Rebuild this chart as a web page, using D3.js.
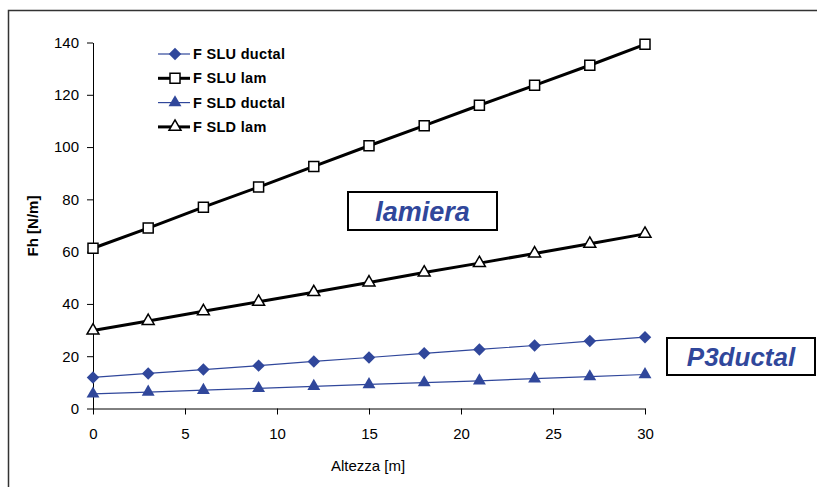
<!DOCTYPE html>
<html>
<head>
<meta charset="utf-8">
<script src="https://cdn.jsdelivr.net/npm/d3@7"></script>
<style>
  body { margin: 0; background: #fff; }
  svg { display: block; font-family: "Liberation Sans", Arial, sans-serif; }
</style>
</head>
<body>
<svg id="chart" width="817" height="487"></svg>
<script>
const altezza = [0, 3, 6, 9, 12, 15, 18, 21, 24, 27, 30];
const sluDuctal = [11.9, 13.4, 14.9, 16.4, 18.0, 19.5, 21.1, 22.6, 24.1, 25.8, 27.3];
const sluLam = [61.3, 69.0, 77.0, 84.7, 92.6, 100.5, 108.2, 116.0, 123.6, 131.3, 139.3];
const sldDuctal = [5.6, 6.3, 7.0, 7.7, 8.5, 9.2, 9.9, 10.6, 11.4, 12.2, 13.0];
const sldLam = [29.8, 33.5, 37.2, 40.8, 44.5, 48.2, 52.0, 55.6, 59.3, 63.0, 66.8];
const xTicks = [0, 5, 10, 15, 20, 25, 30];
const yTicks = [0, 20, 40, 60, 80, 100, 120, 140];
const seriesNames = ["F SLU ductal", "F SLU lam", "F SLD ductal", "F SLD lam"];

const blue = "#30479b";

// square-ish diamond, d3's own is too tall
const diamond = {
    draw(context, size) {
        const r = Math.sqrt(size / 2);
        context.moveTo(0, -r);
        context.lineTo(r, 0);
        context.lineTo(0, r);
        context.lineTo(-r, 0);
        context.closePath();
    }
};

const series = [
    {name: seriesNames[0], values: sluDuctal, color: blue, width: 1.2, symbol: diamond, size: 78, fill: blue},
    {name: seriesNames[1], values: sluLam, color: "#000", width: 3, symbol: d3.symbolSquare, size: 100, fill: "#fff"},
    {name: seriesNames[2], values: sldDuctal, color: blue, width: 1.2, symbol: d3.symbolTriangle, size: 72, fill: blue},
    {name: seriesNames[3], values: sldLam, color: "#000", width: 3, symbol: d3.symbolTriangle, size: 62, fill: "#fff"}
];

const svg = d3.select("#chart");

// outer frame (left and top edges only)
svg.append("path")
    .attr("d", "M8.5,487 V10.5 H817")
    .attr("fill", "none")
    .attr("stroke", "#333")
    .attr("stroke-width", 1.5);

const x = d3.scaleLinear().domain([0, 30]).range([93, 645]);
const y = d3.scaleLinear().domain([0, 140]).range([408.5, 42.5]);

const xAxis = svg.append("g")
    .attr("transform", `translate(0, ${y(0)})`)
    .call(d3.axisBottom(x).tickValues(xTicks).tickSize(6).tickPadding(14).tickSizeOuter(0));

const yAxis = svg.append("g")
    .attr("transform", `translate(${x(0)}, 0)`)
    .call(d3.axisLeft(y).tickValues(yTicks).tickSize(6).tickPadding(8).tickSizeOuter(0));

[xAxis, yAxis].forEach(g => {
    g.attr("font-size", null).attr("font-family", null);
    g.select(".domain").attr("stroke", "#000").attr("stroke-width", 1);
    g.selectAll(".tick line").attr("stroke", "#000");
    g.selectAll(".tick text")
        .attr("fill", "#000")
        .style("font-size", "15px");
});

svg.append("text")
    .attr("x", 368)
    .attr("y", 471)
    .attr("text-anchor", "middle")
    .style("font-size", "15px")
    .text("Altezza [m]");

svg.append("text")
    .attr("transform", "translate(38, 226) rotate(-90)")
    .attr("text-anchor", "middle")
    .style("font-size", "15px")
    .style("font-weight", "bold")
    .text("Fh [N/m]");

const line = d3.line()
    .x((d, i) => x(altezza[i]))
    .y(d => y(d));

series.forEach(s => {
    svg.append("path")
        .datum(s.values)
        .attr("d", line)
        .attr("fill", "none")
        .attr("stroke", s.color)
        .attr("stroke-width", s.width);

    svg.selectAll(null)
        .data(s.values)
        .enter()
        .append("path")
        .attr("transform", (d, i) => `translate(${x(altezza[i])}, ${y(d)})`)
        .attr("d", d3.symbol().type(s.symbol).size(s.size))
        .attr("fill", s.fill)
        .attr("stroke", s.fill === "#fff" ? "#000" : "none")
        .attr("stroke-width", 1.5);
});

// legend
const legend = svg.append("g").attr("transform", "translate(158, 54)");
series.forEach((s, i) => {
    const row = legend.append("g").attr("transform", `translate(0, ${i * 24.3})`);
    row.append("line")
        .attr("x1", 0).attr("x2", 32)
        .attr("stroke", s.color)
        .attr("stroke-width", s.width);
    row.append("path")
        .attr("transform", "translate(17, 0)")
        .attr("d", d3.symbol().type(s.symbol).size(s.size))
        .attr("fill", s.fill)
        .attr("stroke", s.fill === "#fff" ? "#000" : "none")
        .attr("stroke-width", 1.5);
    row.append("text")
        .attr("x", 35)
        .attr("dy", "0.35em")
        .style("font-size", "14.5px")
        .style("font-weight", "bold")
        .style("letter-spacing", "0.3px")
        .text(s.name);
});

// annotation boxes
const notes = [
    {text: "lamiera", x0: 348, y0: 192, w: 149, h: 38, size: 27},
    {text: "P3ductal", x0: 667, y0: 338, w: 148, h: 37, size: 26}
];
notes.forEach(n => {
    svg.append("rect")
        .attr("x", n.x0).attr("y", n.y0)
        .attr("width", n.w).attr("height", n.h)
        .attr("fill", "#fff")
        .attr("stroke", "#000")
        .attr("stroke-width", 2);
    svg.append("text")
        .attr("x", n.x0 + n.w / 2)
        .attr("y", n.y0 + n.h / 2)
        .attr("dy", "0.36em")
        .attr("text-anchor", "middle")
        .attr("fill", blue)
        .style("font-size", n.size + "px")
        .style("font-weight", "bold")
        .style("font-style", "italic")
        .text(n.text);
});
</script>
</body>
</html>
